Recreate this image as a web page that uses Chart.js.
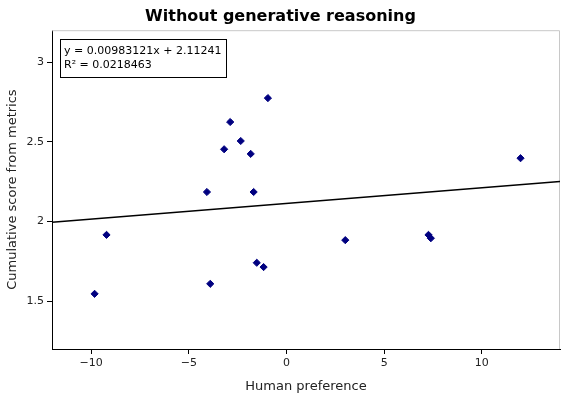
<!DOCTYPE html>
<html>
<head>
  <title>Without generative reasoning</title>
  <script src="https://cdn.jsdelivr.net/npm/chart.js"></script>
  <style>
    html, body { margin: 0; padding: 0; background: #fff; }
    #wrap { width: 565px; height: 398px; }
  </style>
</head>
<body>
  <div id="wrap"><canvas id="scatterChart"></canvas></div>

  <script>
    // Data
    var humanPref = [-9.82, -9.21, -4.07, -3.90, -3.19, -2.88, -2.34, -1.83, -1.68, -1.52, -1.17, -0.95, 3.01, 7.27, 7.39, 11.98];
    var metricScore = [1.546, 1.916, 2.185, 1.609, 2.453, 2.624, 2.505, 2.424, 2.185, 1.741, 1.714, 2.774, 1.883, 1.916, 1.895, 2.397];

    // Regression shown in the box
    var slope = 0.00983121;
    var intercept = 2.11241;
    var rSquared = 0.0218463;
    var fitX = [-12, 14];

    var xTicks = [-10, -5, 0, 5, 10];
    var yTicks = [1.5, 2, 2.5, 3];

    var points = humanPref.map(function (x, i) { return { x: x, y: metricScore[i] }; });
    var fitLine = fitX.map(function (x) { return { x: x, y: slope * x + intercept }; });

    function fmt(v) {
      return v < 0 ? '\u2212' + Math.abs(v) : String(v);
    }

    // gray frame on top/right + equation box
    var framePlugin = {
      id: 'framePlugin',
      beforeDatasetsDraw: function (chart) {
        var a = chart.chartArea, c = chart.ctx;
        c.save();
        c.strokeStyle = '#c8c8c8';
        c.lineWidth = 1;
        c.beginPath();
        c.moveTo(a.left, a.top + 0.5);
        c.lineTo(a.right - 0.5, a.top + 0.5);
        c.lineTo(a.right - 0.5, a.bottom);
        c.stroke();
        c.restore();
      },
      afterDraw: function (chart) {
        var c = chart.ctx;
        c.save();
        c.fillStyle = '#fff';
        c.fillRect(60, 39, 166, 38);
        c.strokeStyle = '#000';
        c.lineWidth = 1;
        c.strokeRect(60.5, 39.5, 166, 38);
        c.fillStyle = '#000';
        c.font = '11px "DejaVu Sans"';
        c.textBaseline = 'middle';
        c.fillText('y = ' + slope + 'x + ' + intercept, 64, 51);
        c.fillText('R\u00b2 = ' + rSquared, 64, 65);
        c.restore();
      }
    };

    var ctx = document.getElementById('scatterChart').getContext('2d');
    var chart = new Chart(ctx, {
      type: 'scatter',
      data: {
        datasets: [
          {
            label: 'Fit',
            type: 'line',
            data: fitLine,
            borderColor: '#000',
            borderWidth: 1.5,
            pointRadius: 0,
            fill: false,
            order: 2
          },
          {
            label: 'Models',
            data: points,
            pointStyle: 'rectRot',
            pointRadius: 3.6,
            backgroundColor: '#000080',
            borderColor: '#000080',
            borderWidth: 1,
            order: 1
          }
        ]
      },
      options: {
        responsive: true,
        maintainAspectRatio: false,
        animation: false,
        devicePixelRatio: 1,
        layout: { padding: { left: 0, right: 4, top: 0, bottom: 0 } },
        plugins: {
          legend: { display: false },
          tooltip: { enabled: false },
          title: {
            display: true,
            text: 'Without generative reasoning',
            color: '#000',
            font: { family: 'DejaVu Sans', size: 16, weight: 'bold' },
            padding: { top: 7, bottom: 4 }
          }
        },
        scales: {
          x: {
            type: 'linear',
            min: -12,
            max: 14,
            afterBuildTicks: function (s) { s.ticks = xTicks.map(function (v) { return { value: v }; }); },
            afterFit: function (s) { s.height = 49; },
            grid: { drawOnChartArea: false, drawTicks: true, tickLength: 5, color: '#000' },
            border: { color: '#000', width: 1 },
            ticks: {
              color: '#222',
              padding: 3,
              font: { family: 'DejaVu Sans', size: 11 },
              callback: function (v) { return fmt(v); }
            },
            title: {
              display: true,
              text: 'Human preference',
              color: '#222',
              font: { family: 'DejaVu Sans', size: 13 },
              padding: { top: 4, bottom: 4 }
            }
          },
          y: {
            type: 'linear',
            min: 1.2,
            max: 3.2,
            afterBuildTicks: function (s) { s.ticks = yTicks.map(function (v) { return { value: v }; }); },
            afterFit: function (s) { s.width = 52; },
            grid: { drawOnChartArea: false, drawTicks: true, tickLength: 5, color: '#000' },
            border: { color: '#000', width: 1 },
            ticks: {
              color: '#222',
              padding: 3,
              font: { family: 'DejaVu Sans', size: 11 },
              callback: function (v) { return fmt(v); }
            },
            title: {
              display: true,
              text: 'Cumulative score from metrics',
              color: '#222',
              font: { family: 'DejaVu Sans', size: 13 },
              padding: { top: 5, bottom: 4 }
            }
          }
        }
      },
      plugins: [framePlugin]
    });
  </script>
</body>
</html>
